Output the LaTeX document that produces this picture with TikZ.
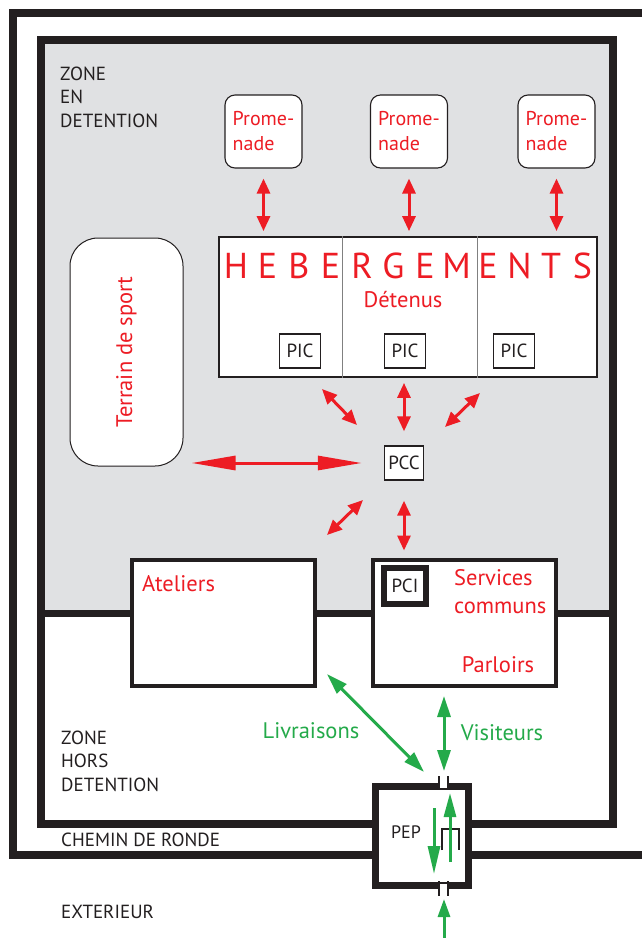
\documentclass[tikz,border=0pt]{standalone}
\usepackage{fontspec}
\setmainfont{PT Sans}
\usepackage{xcolor}
\usetikzlibrary{arrows.meta,positioning,calc}
\definecolor{prisonred}{RGB}{237,28,36}
\definecolor{prisongreen}{RGB}{36,170,74}
\definecolor{zonegray}{RGB}{224,225,227}
\definecolor{ink}{RGB}{35,31,32}
\newcommand{\planfont}{\fontsize{19}{23.5}\selectfont}
\newcommand{\roomfont}{\fontsize{22.5}{28}\selectfont}
\tikzset{
    wall/.style={draw=ink,line width=8pt,line join=miter},
    divider/.style={draw=ink,line width=7pt},
    zonetxt/.style={text=ink,font=\planfont,align=left,anchor=west,inner sep=0pt},
    redtxt/.style={text=prisonred,font=\roomfont,align=left,inner sep=0pt},
    greentxt/.style={text=prisongreen,font=\roomfont,inner sep=0pt},
    promenade/.style={draw=ink,fill=white,rounded corners=10pt,line width=1.1pt,
        minimum width=77pt,minimum height=73pt,text=prisonred,font=\fontsize{20}{25}\selectfont,
        align=left,inner sep=0pt},
    hebbox/.style={draw=ink,fill=white,line width=1.8pt,minimum width=378pt,minimum height=140pt},
    cell/.style={draw=gray,line width=0.8pt},
    bigletter/.style={text=prisonred,font=\fontsize{36}{40}\selectfont,inner sep=0pt},
    post/.style={draw=ink,fill=white,line width=1.4pt,minimum width=41pt,minimum height=34pt,
        text=ink,font=\fontsize{19}{21}\selectfont,inner sep=0pt},
    pcibox/.style={draw=ink,fill=white,line width=6.5pt,minimum width=42pt,minimum height=36pt,
        text=ink,font=\fontsize{19}{21}\selectfont,inner sep=0pt},
    terrain/.style={draw=ink,fill=white,line width=1pt,rounded corners=28pt,
        text=prisonred,font=\roomfont},
    roombox/.style={draw=ink,fill=white,line width=4pt,minimum width=183pt,minimum height=126pt},
    pepbox/.style={draw=ink,fill=white,line width=7pt,minimum width=93pt,minimum height=99pt},
    redarr/.style={{Triangle[length=15pt,width=13pt]}-{Triangle[length=15pt,width=13pt]},
        draw=prisonred,line width=3pt},
    longarr/.style={{Triangle[length=44pt,width=14pt]}-{Triangle[length=44pt,width=14pt]},
        draw=prisonred,line width=3pt},
    greenarr/.style={{Triangle[length=21pt,width=13pt]}-{Triangle[length=21pt,width=13pt]},
        draw=prisongreen,line width=3pt},
    greenone/.style={-{Triangle[length=22pt,width=12pt]},draw=prisongreen,line width=3pt},
    door/.style={draw=ink,line width=2pt}
}

\begin{document}
\begin{tikzpicture}[x=1pt,y=-1pt]
    \useasboundingbox (0,0) rectangle (642,938);
    \fill[white] (0,0) rectangle (642,938);
    \fill[zonegray] (41,40) rectangle (613,613);

    \draw[divider] (41,613) -- (613,613);
    \draw[wall] (642,12.5) -- (12.5,12.5) -- (12.5,855) -- (373,855);
    \draw[wall] (471,855) -- (642,855);
    \draw[wall] (373,824) -- (41,824) -- (41,40) -- (613,40) -- (613,824) -- (471,824);

    \node[zonetxt] (zdet) at (60,97) {ZONE\\EN\\DETENTION};
    \node[zonetxt] (zhors) at (61,761) {ZONE\\HORS\\DETENTION};
    \node[zonetxt] (ronde) at (61,840) {CHEMIN DE RONDE};
    \node[zonetxt] (ext) at (61,912) {EXTERIEUR};

    \node[promenade] (prom1) at (263.5,131.5) {Prome-\\nade};
    \node[promenade] (prom2) at (409,131.5) {Prome-\\nade};
    \node[promenade] (prom3) at (556.5,131.5) {Prome-\\nade};

    \node[hebbox] (heb) at (408,307) {};
    \draw[cell] ($(heb.north west)+(124,0)$) -- ($(heb.south west)+(124,0)$);
    \draw[cell] ($(heb.north west)+(259,0)$) -- ($(heb.south west)+(259,0)$);
    \foreach \ch [count=\i from 0] in {H,E,B,E,R,G,E,M,E,N,T,S}
        \node[bigletter] (let\i) at (236+31.5*\i,266) {\ch};
    \node[redtxt] (det) at (403,300) {Détenus};
    \node[post] (pic1) at (300,351) {PIC};
    \node[post] (pic2) at (405,351) {PIC};
    \node[post] (pic3) at (514,351) {PIC};

    \node[terrain,rotate=90,minimum width=228pt,minimum height=113pt] (sport) at (126.5,352) {Terrain de sport};
    \node[post,minimum width=39pt] (pcc) at (404,463) {PCC};

    \node[roombox] (atel) at (223,622.5) {};
    \node[roombox] (serv) at (464.5,622.5) {};
    \node[redtxt,anchor=west] (ateltxt) at (142,584) {Ateliers};
    \node[pcibox] (pci) at (405,586) {PCI};
    \node[redtxt,anchor=west] (servtxt) at (454,592) {Services\\communs};
    \node[redtxt] (parl) at (498,665) {Parloirs};

    \node[pepbox] (pep) at (422,836) {};
    \node[text=ink,font=\fontsize{18}{20}\selectfont,inner sep=0pt] (peptxt) at (406,832) {PEP};

    \node[greentxt] (livr) at (311,731) {Livraisons};
    \node[greentxt] (visit) at (502,733) {Visiteurs};

    \draw[redarr,shorten <=10pt,shorten >=5pt] (prom1.south) -- (prom1.south |- heb.north);
    \draw[redarr,shorten <=10pt,shorten >=5pt] (prom2.south) -- (prom2.south |- heb.north);
    \draw[redarr,shorten <=10pt,shorten >=5pt] (prom3.south) -- (prom3.south |- heb.north);

    \coordinate (nwa) at (322,389);
    \coordinate (nwb) at (357,425);
    \coordinate (nea) at (480,393);
    \coordinate (neb) at (445,427);
    \coordinate (swa) at (363,500);
    \coordinate (swb) at (327,535);
    \draw[redarr] (nwa) -- (nwb);
    \draw[redarr] (nea) -- (neb);
    \draw[redarr] (swa) -- (swb);
    \draw[redarr,shorten <=14pt,shorten >=5pt] (pcc.north) -- (pcc.north |- heb.south);
    \draw[redarr,shorten <=20pt,shorten >=7pt] (pcc.south) -- (pcc.south |- serv.north);
    \draw[longarr,shorten <=8pt,shorten >=22pt] (sport.south |- pcc.west) -- (pcc.west);

    \coordinate (livra) at (327,674);
    \coordinate (livrb) at (424,772);
    \coordinate (visa) at (444,696);
    \coordinate (visb) at (444,771);
    \draw[greenarr] (livra) -- (livrb);
    \draw[greenarr] (visa) -- (visb);

    \fill[white] ($(pep.north)+(18,-5)$) rectangle ($(pep.north)+(25,5)$);
    \fill[white] ($(pep.south)+(18,-5)$) rectangle ($(pep.south)+(25,5)$);
    \draw[door] ($(pep.north)+(17,-7)$) -- ++(0,14);
    \draw[door] ($(pep.north)+(26,-7)$) -- ++(0,14);
    \draw[door] ($(pep.south)+(17,-8)$) -- ++(0,15);
    \draw[door] ($(pep.south)+(26,-8)$) -- ++(0,15);
    \draw[draw=ink,line width=2.5pt] (442,850) -- (442,829) -- (459,829) -- (459,850);

    \coordinate (downa) at (434,808);
    \coordinate (downb) at (434,874);
    \coordinate (upa) at (450,862);
    \coordinate (upb) at (450,793);
    \coordinate (exta) at (444,938);
    \coordinate (extb) at (444,899);
    \draw[greenone,-{Triangle[length=28pt,width=12pt]}] (downa) -- (downb);
    \draw[greenone,-{Triangle[length=24pt,width=12pt]}] (upa) -- (upb);
    \draw[greenone,-{Triangle[length=18pt,width=12pt]}] (exta) -- (extb);
\end{tikzpicture}
\end{document}
